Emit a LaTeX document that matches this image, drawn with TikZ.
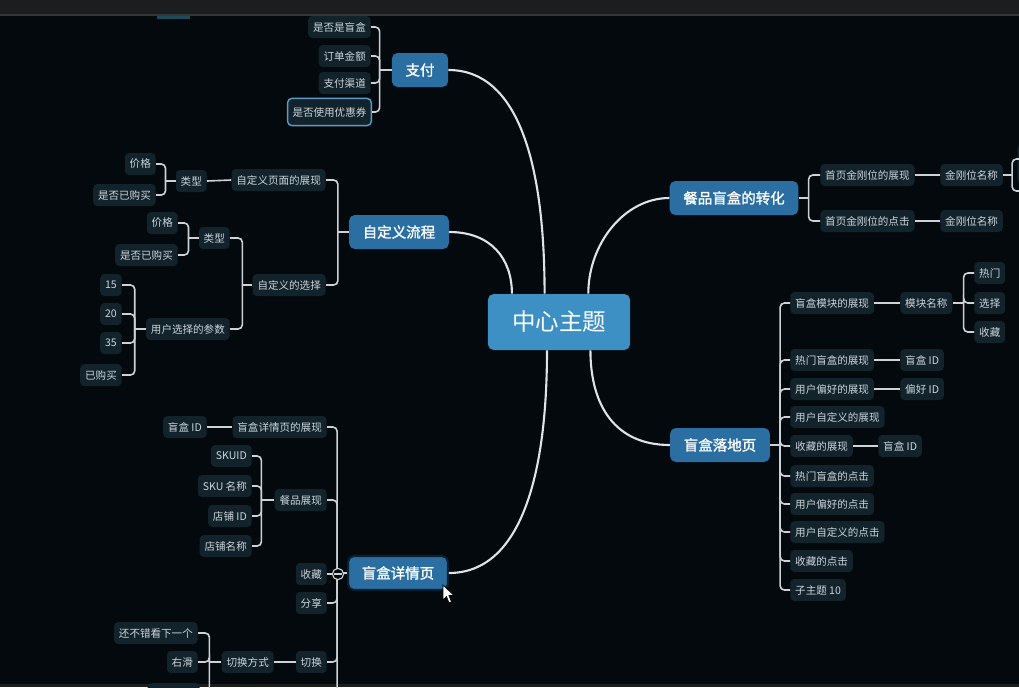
\documentclass[tikz,border=0pt]{standalone}
\usepackage{fontspec}
\setmainfont{Noto Sans CJK SC}[AutoFakeBold=1.3]
\usepackage{xcolor}
\usepackage{tikz}
\definecolor{MapBg}{HTML}{04090D}
\definecolor{BarBg}{HTML}{1C1D1F}
\definecolor{BarLine}{HTML}{34373A}
\definecolor{TabTeal}{HTML}{1B4C57}
\definecolor{RootBlue}{HTML}{3D90C3}
\definecolor{MainBlue}{HTML}{2B6FA2}
\definecolor{SubBg}{HTML}{12232C}
\definecolor{SubText}{HTML}{CDD5DA}
\definecolor{LineGrey}{HTML}{CDD2D6}
\definecolor{TrunkWhite}{HTML}{DDE3E8}
\definecolor{CouponEdge}{HTML}{5C9CCB}
\definecolor{SelEdge}{HTML}{0B1F30}

\begin{document}
\begin{tikzpicture}[x=0.025cm,y=-0.025cm,
    subbox/.style={fill=SubBg, text=SubText, rounded corners=3pt,
                   font=\fontsize{7.5}{9}\selectfont, inner xsep=3.5pt, inner ysep=0pt,
                   minimum height=0.55cm},
    lsub/.style={subbox, anchor=east},
    rsub/.style={subbox, anchor=west},
    mainbox/.style={fill=MainBlue, text=white, rounded corners=4pt,
                    font=\fontsize{10.3}{12}\selectfont\bfseries, inner xsep=9.7pt, inner ysep=0pt,
                    minimum height=0.85cm},
    rootbox/.style={fill=RootBlue, text=white, rounded corners=4pt,
                    font=\fontsize{16.7}{19}\selectfont,
                    minimum width=3.55cm, minimum height=1.4cm},
    brk/.style={LineGrey, line width=1.15pt, rounded corners=3pt},
    lnk/.style={LineGrey, line width=1.15pt},
    trunk/.style={TrunkWhite, line width=1.5pt}]

  \useasboundingbox (0,0) rectangle (1019,687);
  \clip (0,0) rectangle (1019,687);
  \fill[MapBg] (0,0) rectangle (1019,687);
  \fill[BarBg] (0,0) rectangle (1019,14);
  \fill[BarLine] (0,14) rectangle (1019,15.5);
  \fill[TabTeal] (157,15.5) rectangle (190,19);
  \fill[BarBg] (0,684) rectangle (1019,687);

  \node[rootbox] (ct) at (559,322) {中心主题};

  \node[mainbox] (zf) at (420,70) {支付};
  \node[lsub] (zf1) at (371,27) {是否是盲盒};
  \node[lsub] (zf2) at (371,56) {订单金额};
  \node[lsub] (zf3) at (371,83) {支付渠道};
  \node[lsub, draw=CouponEdge, line width=1pt, minimum height=0.68cm] (zf4) at (372,112) {是否使用优惠券};

  \node[mainbox] (zd) at (399,232) {自定义流程};
  \node[lsub] (zd1) at (326,180) {自定义页面的展现};
  \node[lsub] (zd1a) at (207,181) {类型};
  \node[lsub] (zd1a1) at (156,164) {价格};
  \node[lsub] (zd1a2) at (156,195) {是否已购买};
  \node[lsub] (zd2) at (326,285) {自定义的选择};
  \node[lsub] (zd2a) at (230,238) {类型};
  \node[lsub] (zd2a1) at (178,223) {价格};
  \node[lsub] (zd2a2) at (178,255) {是否已购买};
  \node[lsub] (zd2b) at (230,329) {用户选择的参数};
  \node[lsub] (zd2b1) at (122,285) {15};
  \node[lsub] (zd2b2) at (122,314) {20};
  \node[lsub] (zd2b3) at (122,343) {35};
  \node[lsub] (zd2b4) at (122,375) {已购买};

  \node[mainbox, draw=SelEdge, line width=1.5pt] (xq) at (398,573) {盲盒详情页};
  \node[lsub] (xq1) at (327,427) {盲盒详情页的展现};
  \node[lsub] (xq1a) at (207,427) {盲盒 ID};
  \node[lsub] (xq2) at (327,500) {餐品展现};
  \node[lsub] (xq2a) at (252,456) {SKUID};
  \node[lsub] (xq2b) at (252,486) {SKU 名称};
  \node[lsub] (xq2c) at (252,516) {店铺 ID};
  \node[lsub] (xq2d) at (252,546) {店铺名称};
  \node[lsub] (xq3) at (327,574) {收藏};
  \node[lsub] (xq4) at (327,603) {分享};
  \node[lsub] (xq5) at (327,662) {切换};
  \node[lsub] (xq5a) at (274,662) {切换方式};
  \node[lsub] (xq5a1) at (198,633) {还不错看下一个};
  \node[lsub] (xq5a2) at (198,662) {右滑};
  \node[lsub, minimum width=1.3cm] (xq5a3) at (200,694) {};
  \coordinate (xqx) at (327,730);

  \node[mainbox] (zh) at (734,198) {餐品盲盒的转化};
  \node[rsub] (zh1) at (820,175) {首页金刚位的展现};
  \node[rsub] (zh1a) at (940,175) {金刚位名称};
  \node[rsub] (zh2) at (820,221) {首页金刚位的点击};
  \node[rsub] (zh2a) at (940,221) {金刚位名称};
  \node[rsub, minimum width=1.5cm, minimum height=0.95cm] (zh1b) at (1017,164) {};
  \coordinate (zk1) at (1030,159);
  \coordinate (zk2) at (1030,191);

  \node[mainbox] (ld) at (720,445) {盲盒落地页};
  \node[rsub] (ld1) at (790,303) {盲盒模块的展现};
  \node[rsub] (ld1a) at (900,303) {模块名称};
  \node[rsub] (ld1a1) at (974,273) {热门};
  \node[rsub] (ld1a2) at (974,303) {选择};
  \node[rsub] (ld1a3) at (974,332) {收藏};
  \node[rsub] (ld2) at (790,360) {热门盲盒的展现};
  \node[rsub] (ld2a) at (900,360) {盲盒 ID};
  \node[rsub] (ld3) at (790,389) {用户偏好的展现};
  \node[rsub] (ld3a) at (900,389) {偏好 ID};
  \node[rsub] (ld4) at (790,417) {用户自定义的展现};
  \node[rsub] (ld5) at (790,446) {收藏的展现};
  \node[rsub] (ld5a) at (878,446) {盲盒 ID};
  \node[rsub] (ld6) at (790,476) {热门盲盒的点击};
  \node[rsub] (ld7) at (790,504) {用户偏好的点击};
  \node[rsub] (ld8) at (790,532) {用户自定义的点击};
  \node[rsub] (ld9) at (790,561) {收藏的点击};
  \node[rsub] (ld10) at (790,590) {子主题 10};

  \draw[trunk] (zf.east) .. controls +(70,0) and +(0,-130) .. (ct.117);
  \draw[trunk] (zd.east) .. controls +(42,0) and +(0,-35) .. (ct.149);
  \draw[trunk] (xq.east) .. controls +(70,0) and +(0,130) .. (ct.247);
  \draw[trunk] (zh.west) .. controls +(-45,0) and +(0,-50) .. (ct.44);
  \draw[trunk] (ld.west) .. controls +(-55,0) and +(0,55) .. (ct.318);

  \draw[lnk] (zf.west) -- ++(-12,0);
  \foreach \c in {zf1,zf2,zf3,zf4} \draw[brk] (zf.west) ++(-12,0) |- (\c.east);

  \draw[lnk] (zd.west) -- ++(-11,0);
  \foreach \c in {zd1,zd2} \draw[brk] (zd.west) ++(-11,0) |- (\c.east);
  \draw[lnk] (zd1a.east) -- (zd1.west);
  \draw[lnk] (zd1a.west) -- ++(-10,0);
  \foreach \c in {zd1a1,zd1a2} \draw[brk] (zd1a.west) ++(-10,0) |- (\c.east);
  \draw[lnk] (zd2.west) -- ++(-10,0);
  \foreach \c in {zd2a,zd2b} \draw[brk] (zd2.west) ++(-10,0) |- (\c.east);
  \draw[lnk] (zd2a.west) -- ++(-10,0);
  \foreach \c in {zd2a1,zd2a2} \draw[brk] (zd2a.west) ++(-10,0) |- (\c.east);
  \draw[lnk] (zd2b.west) -- ++(-11,0);
  \foreach \c in {zd2b1,zd2b2,zd2b3,zd2b4} \draw[brk] (zd2b.west) ++(-11,0) |- (\c.east);

  \draw[lnk] (xq.west) -- ++(-10,0);
  \foreach \c in {xq1,xq2,xq3,xq4,xq5} \draw[brk] (xq.west) ++(-10,0) |- (\c.east);
  \draw[brk] (xq.west) ++(-10,0) |- (xqx);
  \draw[lnk] (xq1a.east) -- (xq1.west);
  \draw[lnk] (xq2.west) -- ++(-13,0);
  \foreach \c in {xq2a,xq2b,xq2c,xq2d} \draw[brk] (xq2.west) ++(-13,0) |- (\c.east);
  \draw[lnk] (xq5a.east) -- (xq5.west);
  \draw[lnk] (xq5a.west) -- ++(-12,0);
  \foreach \c in {xq5a1,xq5a2,xq5a3} \draw[brk] (xq5a.west) ++(-12,0) |- (\c.east);
  \node[circle, fill=MapBg, draw=LineGrey, line width=0.8pt, minimum size=0.28cm, inner sep=0pt] (tg) at (338,574) {};
  \draw[LineGrey, line width=0.8pt] (tg.west) ++(2.5,0) -- ([xshift=-2.5*0.025cm]tg.east);

  \draw[lnk] (zh.east) -- ++(10,0);
  \foreach \c in {zh1,zh2} \draw[brk] (zh.east) ++(10,0) |- (\c.west);
  \draw[lnk] (zh1.east) -- (zh1a.west);
  \draw[lnk] (zh2.east) -- (zh2a.west);
  \draw[lnk] (zh1a.east) -- ++(9,0);
  \foreach \c in {zk1,zk2} \draw[brk] (zh1a.east) ++(9,0) |- (\c);

  \draw[lnk] (ld.east) -- ++(10,0);
  \foreach \c in {ld1,ld2,ld3,ld4,ld5,ld6,ld7,ld8,ld9,ld10} \draw[brk] (ld.east) ++(10,0) |- (\c.west);
  \draw[lnk] (ld1.east) -- (ld1a.west);
  \draw[lnk] (ld1a.east) -- ++(11,0);
  \foreach \c in {ld1a1,ld1a2,ld1a3} \draw[brk] (ld1a.east) ++(11,0) |- (\c.west);
  \draw[lnk] (ld2.east) -- (ld2a.west);
  \draw[lnk] (ld3.east) -- (ld3a.west);
  \draw[lnk] (ld5.east) -- (ld5a.west);

  \filldraw[fill=white, draw=black, line width=0.5pt]
    (443,585) -- (443,600) -- (446.5,596.5) -- (449,603) -- (451.5,602) -- (449,595.5) -- (454,595.5) -- cycle;
\end{tikzpicture}
\end{document}
